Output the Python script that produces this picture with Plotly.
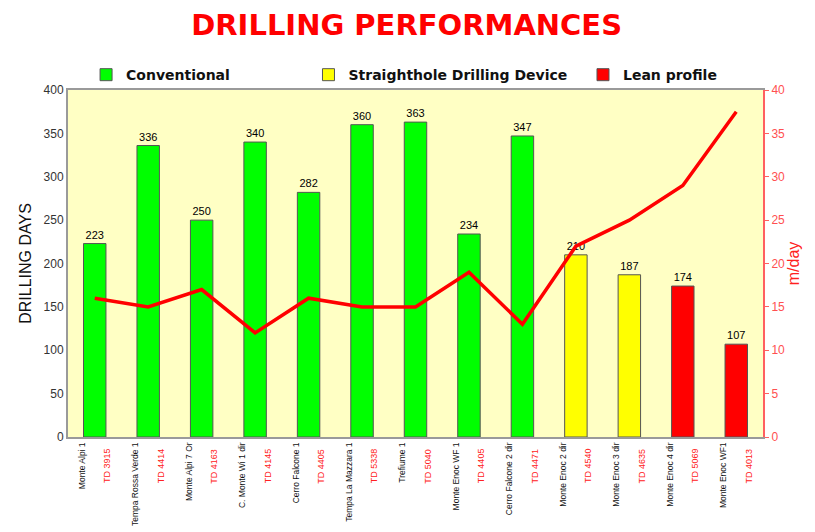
import plotly.graph_objects as go

wells = ["Monte Alpi 1", "Tempa Rossa Verde 1", "Monte Alpi 7 Or", "C. Monte Wi 1 dir",
         "Cerro Falcone 1", "Tempa La Mazzara 1", "Trefiume 1", "Monte Enoc WF 1",
         "Cerro Falcone 2 dir", "Monte Enoc 2 dir", "Monte Enoc 3 dir", "Monte Enoc 4 dir",
         "Monte Enoc WF1"]
td_labels = ["TD 3915", "TD 4414", "TD 4163", "TD 4145", "TD 4405", "TD 5338", "TD 5040",
             "TD 4405", "TD 4471", "TD 4540", "TD 4635", "TD 5069", "TD 4013"]
drilling_days = [223, 336, 250, 340, 282, 360, 363, 234, 347, 210, 187, 174, 107]
rop_m_day = [16, 15, 17, 12, 16, 15, 15, 19, 13, 22, 25, 29, 37.5]
group = ["Conventional"] * 9 + ["Straighthole Drilling Device"] * 2 + ["Lean profile"] * 2
group_colors = {"Conventional": "#00ff00",
                "Straighthole Drilling Device": "#ffff00",
                "Lean profile": "#ff0000"}
left_ticks = [0, 50, 100, 150, 200, 250, 300, 350, 400]
right_ticks = [0, 5, 10, 15, 20, 25, 30, 35, 40]

idx = list(range(len(wells)))
fig = go.Figure()

legend_names = ["legend", "legend2", "legend3"]
for k, g in enumerate(group_colors):
    xs = [i for i in idx if group[i] == g]
    fig.add_trace(go.Bar(
        x=xs, y=[drilling_days[i] for i in xs], name="<b>" + g + "</b>",
        marker=dict(color=group_colors[g], line=dict(color="#555555", width=1)),
        width=0.42, text=[str(drilling_days[i]) for i in xs], textposition="outside",
        textfont=dict(color="#000000", size=11, family="Liberation Sans"),
        cliponaxis=False, legend=legend_names[k], showlegend=True))

fig.add_trace(go.Scatter(x=idx, y=rop_m_day, mode="lines", yaxis="y2",
                         line=dict(color="#ff0000", width=3.5), showlegend=False))

for i in idx:
    fig.add_annotation(x=i + 0.23, y=-0.027, xref="x", yref="paper", text=td_labels[i],
                       textangle=-90, yanchor="top", xanchor="center", showarrow=False,
                       font=dict(color="#ff2020", size=9, family="Liberation Sans"))

legend_common = dict(orientation="h", yanchor="middle", xanchor="left",
                     font=dict(size=14, family="DejaVu Sans", color="#111111"),
                     bgcolor="rgba(0,0,0,0)", itemwidth=30)
fig.update_layout(
    width=807, height=524,
    margin=dict(l=60, r=52, t=82, b=95, autoexpand=False),
    paper_bgcolor="white", plot_bgcolor="#ffffc4",
    title=dict(text="<b>DRILLING PERFORMANCES</b>", x=0.494, xanchor="center", y=0.968,
               yanchor="middle", font=dict(color="#ff0000", size=29, family="DejaVu Sans")),
    legend=dict(x=0.026, y=1.043, **legend_common),
    legend2=dict(x=0.346, y=1.043, **legend_common),
    legend3=dict(x=0.741, y=1.043, **legend_common),
    bargap=0.5,
    xaxis=dict(range=[-0.5, 12.5], tickmode="array", automargin=False,
               tickvals=[i - 0.24 for i in idx], ticktext=wells, tickangle=-90,
               tickfont=dict(size=8.5, color="#111111", family="Liberation Sans"),
               showline=True, linecolor="#9a9a9a", linewidth=2, mirror=True,
               ticks="", showgrid=False, zeroline=False),
    yaxis=dict(range=[0, 400], tickmode="array", tickvals=left_ticks, automargin=False,
               ticktext=[str(v) for v in left_ticks],
               tickfont=dict(size=12, color="#333333", family="Liberation Sans"),
               title=dict(text="DRILLING DAYS", font=dict(size=16, color="#111111",
                                                           family="Liberation Sans"), standoff=8),
               showline=True, linecolor="#9a9a9a", linewidth=2,
               ticks="", showgrid=False, zeroline=False),
    yaxis2=dict(range=[0, 40], overlaying="y", side="right", tickmode="array",
                tickvals=right_ticks, ticktext=[str(v) for v in right_ticks], automargin=False,
                tickfont=dict(size=12, color="#ff5050", family="Liberation Sans"),
                title=dict(text="m/day", font=dict(size=16, color="#ff2020",
                                                    family="Liberation Sans"), standoff=4),
                showline=True, linecolor="#ff6060", linewidth=2,
                ticks="outside", ticklen=4, tickcolor="#ff6060",
                showgrid=False, zeroline=False),
)

fig.write_html("out.html")
